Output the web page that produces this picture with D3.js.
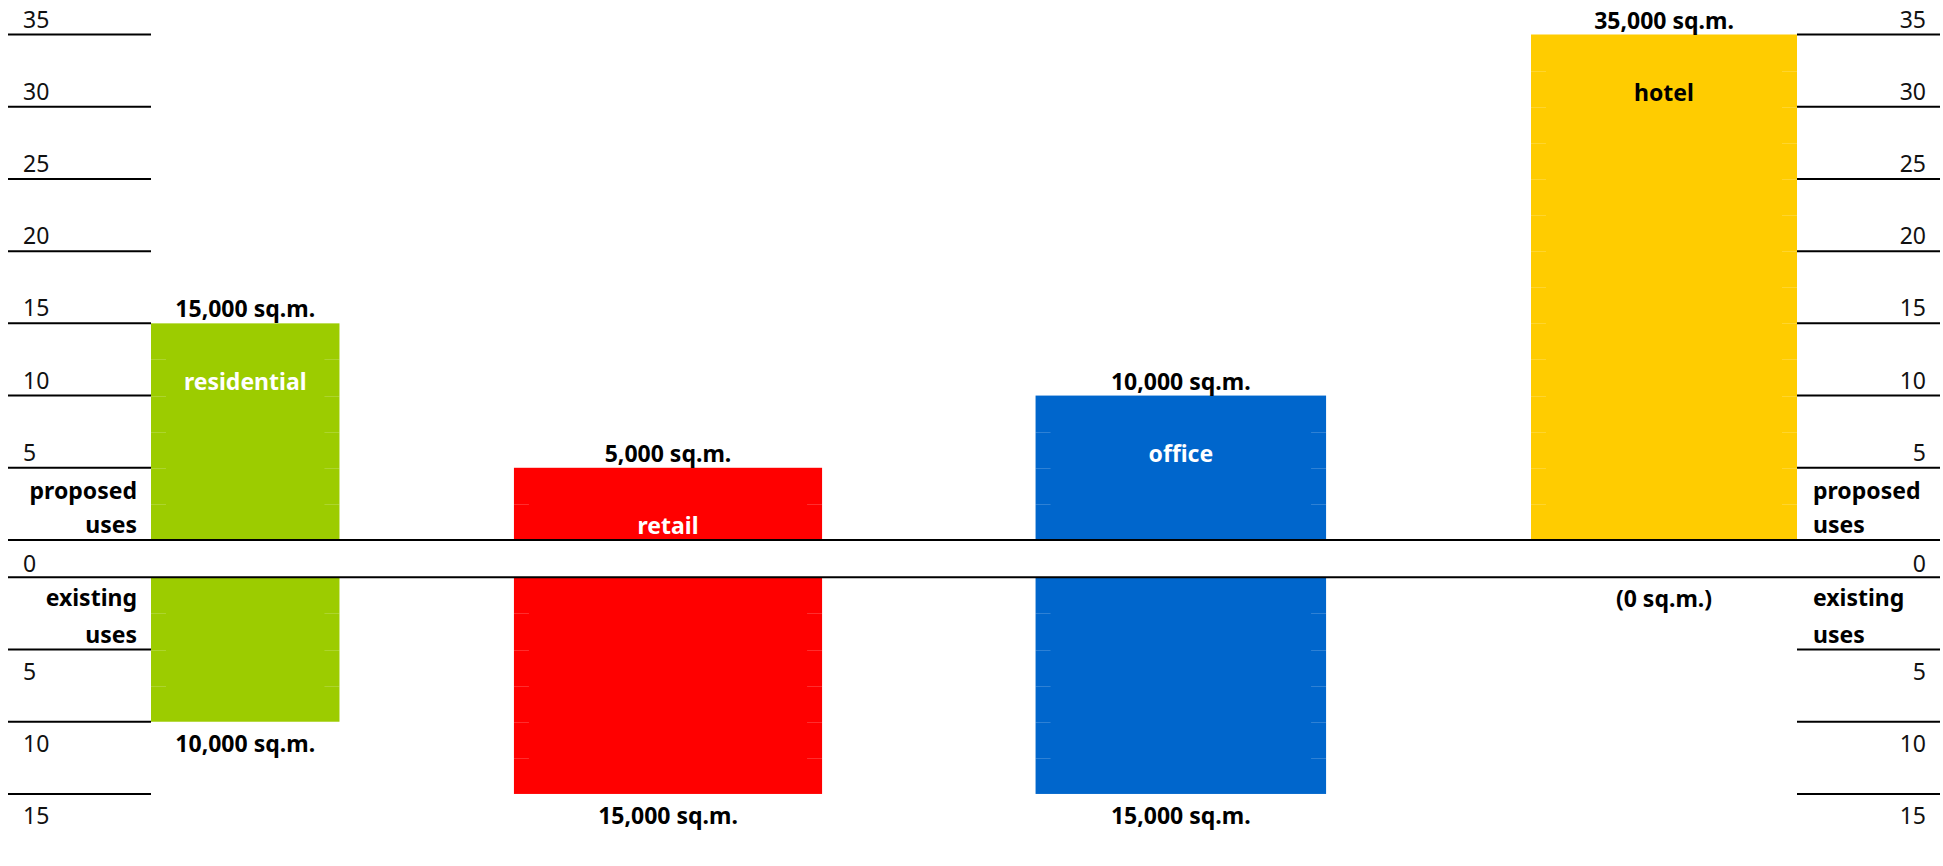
<!DOCTYPE html>
<html>
<head>
<meta charset="utf-8">
<script src="https://cdn.jsdelivr.net/npm/d3@7"></script>
<style>
  html, body { margin: 0; padding: 0; background: #fff; }
  svg { display: block; }
  text { font-family: "Noto Sans", "Open Sans", sans-serif; }
</style>
</head>
<body>
<svg id="chart" width="1943" height="866"></svg>
<script>
// ---- data ----
const categories = ["residential", "retail", "office", "hotel"];
const proposedValues = [15, 5, 10, 35];      // thousand sq.m.
const existingValues = [10, 15, 15, 0];      // thousand sq.m.
const proposedLabels = ["15,000 sq.m.", "5,000 sq.m.", "10,000 sq.m.", "35,000 sq.m."];
const existingLabels = ["10,000 sq.m.", "15,000 sq.m.", "15,000 sq.m.", "(0 sq.m.)"];
const upperTicks = [0, 5, 10, 15, 20, 25, 30, 35];
const lowerTicks = [5, 10, 15];
const colors = ["#9ccc00", "#ff0000", "#0066cc", "#ffcc00"];
const nameColors = ["#ffffff", "#ffffff", "#ffffff", "#000000"];

// ---- layout (column extents as fractions of the plot width) ----
const columnFractions = [[0, 0.1145], [0.2205, 0.4077], [0.5374, 0.7139], [0.8384, 1]];

const W = 1943, H = 866;
const svg = d3.select("#chart");

const plotLeft = 151, plotRight = 1797;
const x = d3.scaleLinear().domain([0, 1]).range([plotLeft, plotRight]);
const yUp = d3.scaleLinear().domain([0, 35]).range([540, 34.5]);
const unit = (540 - 34.5) / 35;
const lowerZero = 577.3;
const yDown = d3.scaleLinear().domain([0, 15]).range([lowerZero, lowerZero + 15 * unit]);

const rows = categories.map((c, i) => ({
  name: c, up: proposedValues[i], down: existingValues[i],
  upLabel: proposedLabels[i], downLabel: existingLabels[i],
  color: colors[i], nameColor: nameColors[i],
  x0: x(columnFractions[i][0]), x1: x(columnFractions[i][1])
}));

// bars
const g = svg.append("g");
g.selectAll("rect.up").data(rows).join("rect")
  .attr("x", d => d.x0).attr("width", d => d.x1 - d.x0)
  .attr("y", d => yUp(d.up)).attr("height", d => yUp(0) - yUp(d.up))
  .attr("fill", d => d.color);
g.selectAll("rect.down").data(rows.filter(d => d.down > 0)).join("rect")
  .attr("x", d => d.x0).attr("width", d => d.x1 - d.x0)
  .attr("y", yDown(0)).attr("height", d => yDown(d.down) - yDown(0))
  .attr("fill", d => d.color);

// faint inner grid marks at bar edges
const faint = svg.append("g").attr("stroke", "#fff").attr("stroke-opacity", 0.18).attr("stroke-width", 1);
rows.forEach(d => {
  for (let v = 2.5; v < d.up; v += 2.5) {
    const yy = Math.round(yUp(v)) + 0.5;
    faint.append("line").attr("x1", d.x0).attr("x2", d.x0 + 15).attr("y1", yy).attr("y2", yy);
    faint.append("line").attr("x1", d.x1 - 15).attr("x2", d.x1).attr("y1", yy).attr("y2", yy);
  }
  for (let v = 2.5; v < d.down; v += 2.5) {
    const yy = Math.round(yDown(v)) + 0.5;
    faint.append("line").attr("x1", d.x0).attr("x2", d.x0 + 15).attr("y1", yy).attr("y2", yy);
    faint.append("line").attr("x1", d.x1 - 15).attr("x2", d.x1).attr("y1", yy).attr("y2", yy);
  }
});

// axis tick lines
const axisLeftX0 = 8, axisRightX1 = 1940;
const lines = svg.append("g").attr("stroke", "#000").attr("stroke-width", 2);
upperTicks.filter(t => t > 0).forEach(t => {
  lines.append("line").attr("x1", axisLeftX0).attr("x2", plotLeft).attr("y1", yUp(t)).attr("y2", yUp(t));
  lines.append("line").attr("x1", plotRight).attr("x2", axisRightX1).attr("y1", yUp(t)).attr("y2", yUp(t));
});
lowerTicks.forEach(t => {
  lines.append("line").attr("x1", axisLeftX0).attr("x2", plotLeft).attr("y1", yDown(t)).attr("y2", yDown(t));
  lines.append("line").attr("x1", plotRight).attr("x2", axisRightX1).attr("y1", yDown(t)).attr("y2", yDown(t));
});
// zero lines across
lines.append("line").attr("x1", axisLeftX0).attr("x2", axisRightX1).attr("y1", yUp(0)).attr("y2", yUp(0));
lines.append("line").attr("x1", axisLeftX0).attr("x2", axisRightX1).attr("y1", yDown(0)).attr("y2", yDown(0));

// tick labels
const tl = svg.append("g").attr("font-size", 23).attr("fill", "#111");
upperTicks.filter(t => t > 0).forEach(t => {
  tl.append("text").attr("x", 23).attr("y", yUp(t) - 7).text(t);
  tl.append("text").attr("x", 1926).attr("y", yUp(t) - 7).attr("text-anchor", "end").text(t);
});
tl.append("text").attr("x", 23).attr("y", yDown(0) - 5.5).text(0);
tl.append("text").attr("x", 1926).attr("y", yDown(0) - 5.5).attr("text-anchor", "end").text(0);
lowerTicks.forEach(t => {
  tl.append("text").attr("x", 23).attr("y", yDown(t) + 30).text(t);
  tl.append("text").attr("x", 1926).attr("y", yDown(t) + 30).attr("text-anchor", "end").text(t);
});

// side labels
const sl = svg.append("g").attr("font-size", 23).attr("font-weight", "bold").attr("fill", "#000");
const sideRows = [["proposed", 499], ["uses", 533], ["existing", 606], ["uses", 643]];
sideRows.forEach(([t, yy]) => {
  sl.append("text").attr("x", 137).attr("y", yy).attr("text-anchor", "end").text(t);
  sl.append("text").attr("x", 1813).attr("y", yy).text(t);
});

// value labels
const vl = svg.append("g").attr("font-size", 23).attr("font-weight", "bold").attr("text-anchor", "middle");
vl.selectAll("text.up").data(rows).join("text")
  .attr("x", d => (d.x0 + d.x1) / 2).attr("y", d => yUp(d.up) - 6).attr("fill", "#000")
  .text(d => d.upLabel);
vl.selectAll("text.down").data(rows).join("text")
  .attr("class", "down")
  .attr("x", d => (d.x0 + d.x1) / 2).attr("y", d => yDown(d.down) + 30).attr("fill", "#000")
  .text(d => d.downLabel);
// category names inside bars
vl.selectAll("text.name").data(rows).join("text")
  .attr("class", "name")
  .attr("x", d => (d.x0 + d.x1) / 2).attr("y", d => yUp(d.up - 5) - 6)
  .attr("fill", d => d.nameColor)
  .text(d => d.name);
</script>
</body>
</html>
